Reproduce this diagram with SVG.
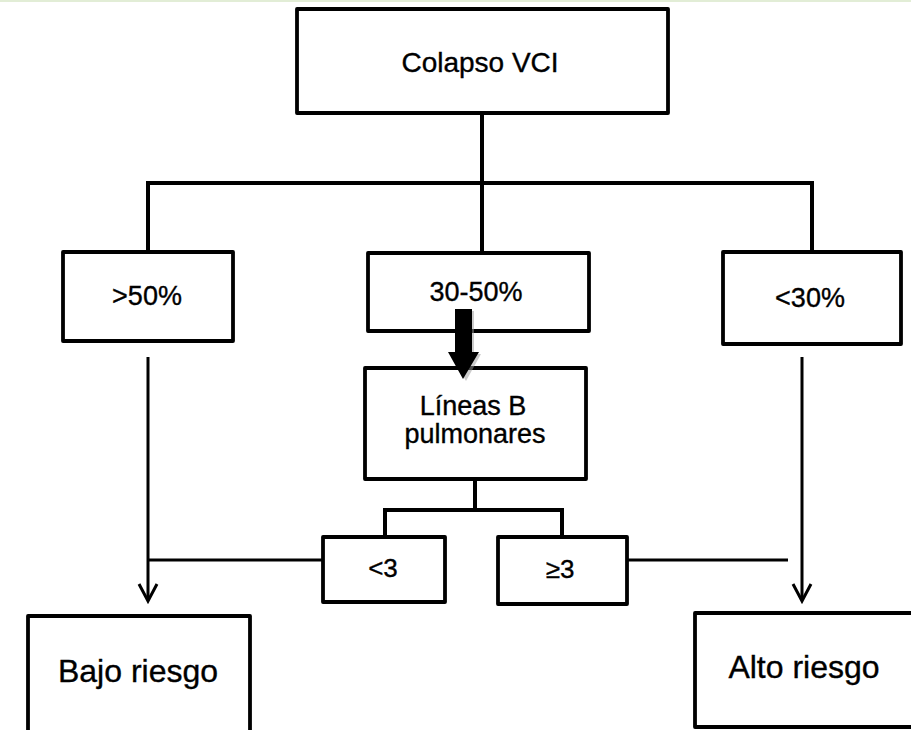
<svg xmlns="http://www.w3.org/2000/svg" width="911" height="730" viewBox="0 0 911 730">
<defs>
<style>
.box{fill:#fff;stroke:#000;stroke-width:3.8;stroke-linejoin:round}
.t{font-family:"Liberation Sans",Arial,sans-serif;font-size:27px;fill:#000;stroke:#000;stroke-width:0.35;text-anchor:middle}
.big{font-size:32px}
.thick{fill:none;stroke:#000;stroke-width:4}
.thin{fill:none;stroke:#000;stroke-width:3}
</style>
</defs>
<rect x="0" y="0" width="911" height="730" fill="#fff"/>
<rect x="0" y="0" width="911" height="2" fill="#e2edd6"/>
<g id="connectors">
<path class="thick" d="M482,113 V183 M148,252 V183 H812 V252 M482,183 V253"/>
<path class="thin" d="M148,357 V600 M802,357 V600"/>
<path class="thin" d="M139,584 L148,601 L157,584 M793,584 L802,601 L811,584" stroke-width="3.5"/>
<path class="thin" d="M323,560 H148 M627,560 H788"/>
<path class="thick" stroke-width="3.4" d="M475,479 V510 M385,537 V510 H562 V537"/>
</g>
<g id="colapso"><rect class="box" x="297" y="9" width="371" height="104"/><text class="t" x="480" y="72" style="font-size:28px">Colapso VCI</text></g>
<g id="gt50"><rect class="box" x="63" y="252" width="170" height="89"/><text class="t" x="147" y="305">&gt;50%</text></g>
<g id="mid"><rect class="box" x="368" y="253" width="221" height="78"/><text class="t" x="476" y="301">30-50%</text></g>
<g id="lt30"><rect class="box" x="723" y="252" width="178" height="92"/><text class="t" x="810" y="307">&lt;30%</text></g>
<g id="lineas"><rect class="box" x="365" y="368" width="221" height="111"/><text class="t" x="473" y="415">Líneas B</text><text class="t" x="475" y="443">pulmonares</text></g>
<g id="arrow">
<polygon points="457,311 474,311 474,354 481,354 466,381 450,354 457,354" fill="#999" opacity="0.5"/>
<polygon points="455,309 472,309 472,352 479,352 463,379 448,352 455,352" fill="#000"/>
</g>
<g id="lt3"><rect class="box" x="323" y="537" width="122" height="65"/><text class="t" x="383" y="577" style="font-size:26px">&lt;3</text></g>
<g id="ge3"><rect class="box" x="498" y="537" width="129" height="67"/><text class="t" x="560" y="578" style="font-size:26px">≥3</text></g>
<g id="bajo"><rect class="box" x="28" y="616" width="222" height="130"/><text class="t big" x="138" y="682">Bajo riesgo</text></g>
<g id="alto"><rect class="box" x="695" y="613" width="230" height="114"/><text class="t big" x="804" y="678">Alto riesgo</text></g>
</svg>
